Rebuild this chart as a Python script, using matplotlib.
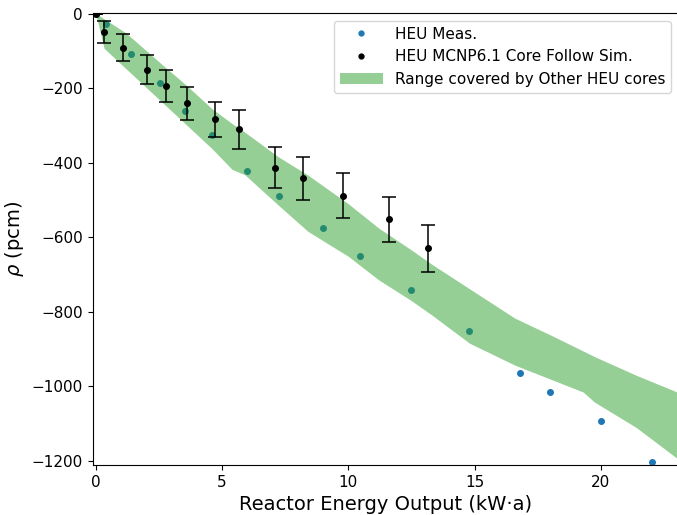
import matplotlib
matplotlib.use("Agg")
import matplotlib.pyplot as plt
import matplotlib.patches as mpatches
from matplotlib.lines import Line2D

# measured HEU core follow data
meas_x = [0, 0.4, 1.38, 2.56, 3.53, 4.59, 6.0, 7.25, 9.0, 10.45, 12.5, 14.8, 16.8, 17.97, 20.0, 22.03]
meas_y = [0, -27, -108, -186, -260, -325, -423, -490, -576, -650, -742, -852, -964, -1016, -1094, -1202]

# MCNP6.1 simulation with uncertainties
sim_x = [0, 0.32, 1.09, 2.02, 2.8, 3.6, 4.72, 5.69, 7.09, 8.19, 9.8, 11.62, 13.17]
sim_y = [0, -50, -91, -150, -195, -241, -284, -310, -413, -442, -488, -552, -630]
sim_err = [0, 30, 36, 39, 43, 45, 48, 52, 54, 57, 60, 60, 64]

# envelope of the other HEU cores
band_x = [0, 0.33, 1.2, 2.6, 3.6, 4.6, 5.4, 5.9, 7.25, 8.4, 10.0, 11.2, 12.5, 13.3, 14.8, 16.6, 18.1, 19.3, 19.75, 21.4, 23.2]
band_hi = [0, -14, -52, -135, -193, -255, -295, -318, -385, -433, -510, -575, -634, -672, -738, -817, -865, -905, -920, -970, -1020]
band_lo = [0, -93, -148, -236, -299, -362, -418, -432, -515, -584, -651, -714, -770, -808, -884, -943, -983, -1015, -1042, -1110, -1202]

fig = plt.figure(figsize=(6.77, 5.15), dpi=100)
ax = fig.add_axes([0.137, 0.097, 0.866, 0.878])

ax.plot(meas_x, meas_y, '.', color='#1f77b4', markersize=8, zorder=2)
ax.fill_between(band_x, band_lo, band_hi, color='#2ca02c', alpha=0.5, linewidth=0, zorder=2.5)
ax.errorbar(sim_x, sim_y, yerr=sim_err, fmt='.', color='black', markersize=8,
            ecolor='black', elinewidth=1.1, capsize=5, capthick=1.1, zorder=3)

handles = [
    Line2D([], [], linestyle='none', marker='.', color='#1f77b4', markersize=7, label='HEU Meas.'),
    Line2D([], [], linestyle='none', marker='.', color='black', markersize=7, label='HEU MCNP6.1 Core Follow Sim.'),
    mpatches.Patch(color='#2ca02c', alpha=0.5, linewidth=0, label='Range covered by Other HEU cores'),
]

ax.set_xlim(-0.12, 23.1)
ax.set_ylim(-1211, 2)
ax.set_xticks([0, 5, 10, 15, 20])
ax.set_yticks([0, -200, -400, -600, -800, -1000, -1200])
ax.tick_params(labelsize=11)

ax.set_xlabel('Reactor Energy Output (kW·a)', fontsize=14)
ax.set_ylabel(r'$\rho$ (pcm)', fontsize=14)

ax.legend(handles=handles, loc='upper right', fontsize=11, handlelength=2.8)

fig.savefig('out.png', dpi=100)
